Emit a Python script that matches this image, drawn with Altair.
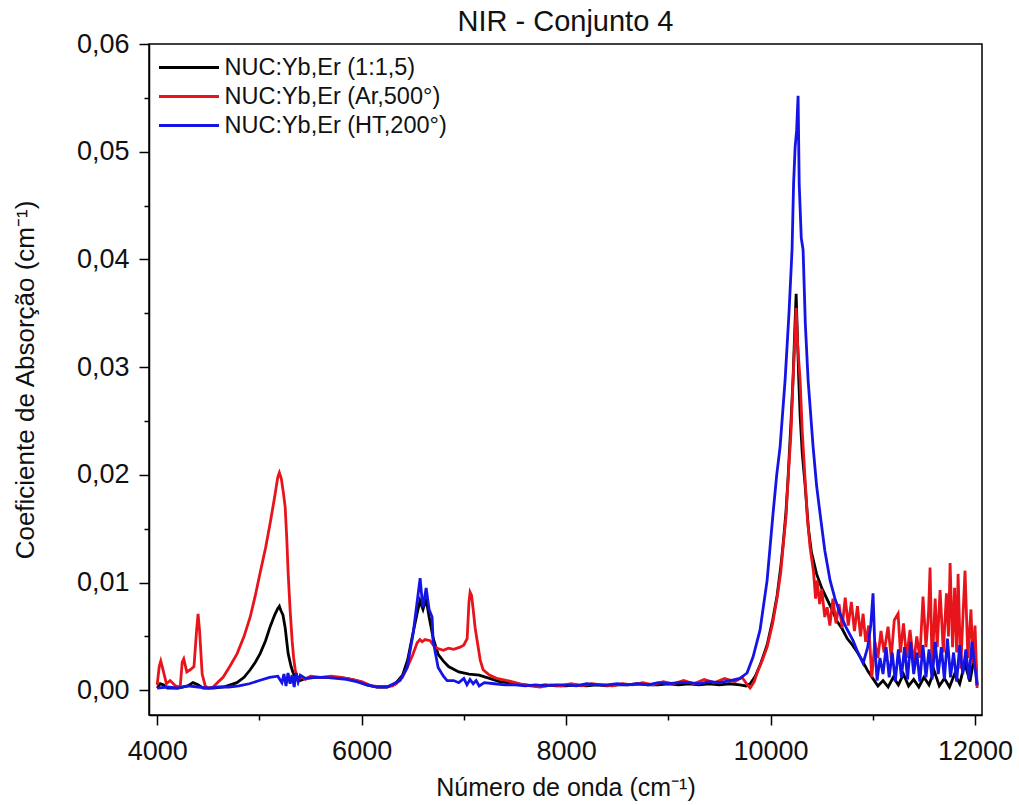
import altair as alt
import pandas as pd

SERIES = ["NUC:Yb,Er (1:1,5)", "NUC:Yb,Er (Ar,500°)", "NUC:Yb,Er (HT,200°)"]
COLORS = ["#000000", "#e8141c", "#1414e6"]

black_x = [4000, 4030, 4060, 4100, 4200, 4300, 4350, 4400, 4450, 4550, 4650, 4780, 4850, 4910, 4960,
           5007, 5060, 5105, 5150, 5180, 5195, 5210, 5230, 5252, 5281, 5310, 5330, 5360, 5400, 5450,
           5550, 5650, 5750, 5850, 5950, 6050, 6150, 6250, 6330, 6400, 6450, 6500, 6540, 6570, 6600,
           6630, 6660, 6700, 6750, 6800, 6850, 6950, 7050, 7150, 7250, 7350, 7500, 7600, 7700, 7800,
           7900, 8000, 8100, 8200, 8300, 8400, 8500, 8600, 8700, 8800, 8900, 9000, 9100, 9200, 9300,
           9400, 9500, 9600, 9700, 9760, 9800, 9850, 9900, 9966, 10020, 10064, 10100, 10122, 10150,
           10171, 10200, 10220, 10235, 10250, 10262, 10275, 10289, 10310, 10338, 10370, 10400, 10450,
           10500, 10550, 10600, 10650, 10700, 10750, 10800, 10850, 10900, 10950, 11000, 11050, 11100,
           11150, 11200, 11250, 11300, 11350, 11400, 11450, 11500, 11550, 11600, 11650, 11700, 11750,
           11800, 11850, 11900, 11950, 12000, 12020]
black_y = [0.0002, 0.0006, 0.0005, 0.0002, 0.0002, 0.0004, 0.0007, 0.0005, 0.0002, 0.0002, 0.0003,
           0.0007, 0.0012, 0.0019, 0.0026, 0.0034, 0.0046, 0.0059, 0.0070, 0.0076, 0.0078, 0.0074,
           0.0070, 0.0058, 0.0034, 0.0022, 0.0016, 0.0011, 0.0009, 0.0011, 0.0012, 0.0012, 0.0012,
           0.0011, 0.0009, 0.0005, 0.0003, 0.0003, 0.0006, 0.0014, 0.0028, 0.0052, 0.0070, 0.0083,
           0.0075, 0.0085, 0.0068, 0.0048, 0.0033, 0.0027, 0.0022, 0.0017, 0.0015, 0.0014, 0.0011,
           0.0008, 0.0006, 0.0005, 0.0004, 0.0005, 0.0004, 0.0004, 0.0005, 0.0004, 0.0005, 0.0004,
           0.0005, 0.0005, 0.0006, 0.0005, 0.0005, 0.0006, 0.0005, 0.0006, 0.0005, 0.0006, 0.0005,
           0.0006, 0.0005, 0.0004, 0.0006, 0.0013, 0.0024, 0.0042, 0.0065, 0.0088, 0.0115, 0.0135,
           0.0165, 0.0197, 0.0250, 0.0290, 0.0330, 0.0368, 0.0330, 0.0290, 0.0255, 0.0220, 0.0190,
           0.0150, 0.0128, 0.0108, 0.0095, 0.0085, 0.0075, 0.0064, 0.0057, 0.0048, 0.0042, 0.0035,
           0.0027, 0.0018, 0.0011, 0.0004, 0.0009, 0.0003, 0.0012, 0.0005, 0.0015, 0.0004, 0.0010,
           0.0003, 0.0012, 0.0005, 0.0018, 0.0004, 0.0011, 0.0003, 0.0015, 0.0006, 0.0025, 0.0008,
           0.0035, 0.0004]

red_x = [4000, 4020, 4035, 4060, 4090, 4127, 4180, 4225, 4245, 4260, 4290, 4323, 4360, 4385, 4400,
         4415, 4440, 4470, 4500, 4548, 4600, 4645, 4710, 4782, 4850, 4910, 4960, 5007, 5060, 5105,
         5150, 5180, 5195, 5215, 5235, 5252, 5268, 5281, 5300, 5320, 5335, 5350, 5379, 5400, 5450,
         5500, 5600, 5700, 5800, 5900, 6000, 6100, 6200, 6300, 6337, 6400, 6445, 6500, 6543, 6570,
         6592, 6620, 6670, 6700, 6738, 6800, 6850, 6900, 6963, 7000, 7032, 7050, 7061, 7075, 7091,
         7110, 7130, 7160, 7188, 7250, 7320, 7423, 7550, 7650, 7746, 7850, 7950, 8050, 8150, 8250,
         8350, 8450, 8550, 8650, 8750, 8850, 8950, 9050, 9150, 9250, 9350, 9450, 9550, 9650, 9720,
         9780, 9800, 9840, 9868, 9920, 9966, 10020, 10064, 10100, 10122, 10150, 10171, 10200, 10220,
         10235, 10250, 10265, 10289, 10310, 10338, 10360, 10386, 10420, 10440, 10455, 10480, 10500,
         10530, 10553, 10580, 10610, 10640, 10670, 10700, 10730, 10760, 10790, 10820, 10850, 10880,
         10905, 10930, 10960, 10990, 11020, 11050, 11080, 11110, 11149, 11180, 11210, 11247, 11270,
         11300, 11330, 11364, 11400, 11430, 11460, 11491, 11520, 11545, 11560, 11580, 11610, 11630,
         11658, 11690, 11720, 11740, 11756, 11780, 11800, 11820, 11834, 11860, 11880, 11902, 11930,
         11960, 11980, 12000, 12020]
red_y = [0.0005, 0.0022, 0.0027, 0.0018, 0.0006, 0.0009, 0.0004, 0.0003, 0.0026, 0.0029, 0.0017,
         0.0019, 0.0022, 0.0055, 0.0071, 0.0055, 0.0015, 0.0004, 0.0002, 0.0003, 0.0008, 0.0012,
         0.0022, 0.0034, 0.0050, 0.0068, 0.0088, 0.0109, 0.0132, 0.0155, 0.0180, 0.0198, 0.0202,
         0.0196, 0.0183, 0.0170, 0.0140, 0.0109, 0.0075, 0.0046, 0.0030, 0.0019, 0.0008, 0.0013,
         0.0010, 0.0013, 0.0012, 0.0013, 0.0012, 0.0010, 0.0008, 0.0004, 0.0003, 0.0004, 0.0006,
         0.0012, 0.0021, 0.0033, 0.0044, 0.0047, 0.0045, 0.0047, 0.0046, 0.0042, 0.0039, 0.0037,
         0.0039, 0.0038, 0.0040, 0.0042, 0.0048, 0.0082, 0.0091, 0.0088, 0.0075, 0.0058, 0.0046,
         0.0028, 0.0019, 0.0014, 0.0011, 0.0009, 0.0006, 0.0004, 0.0003, 0.0005, 0.0004, 0.0006,
         0.0004, 0.0006, 0.0005, 0.0004, 0.0006, 0.0005, 0.0007, 0.0005, 0.0008, 0.0006, 0.0009,
         0.0006, 0.0010, 0.0007, 0.0011, 0.0008, 0.0012, 0.0004, 0.0002, 0.0008, 0.0016, 0.0028,
         0.0040, 0.0062, 0.0086, 0.0110, 0.0133, 0.0160, 0.0195, 0.0240, 0.0288, 0.0320, 0.0355,
         0.0320, 0.0288, 0.0240, 0.0195, 0.0160, 0.0133, 0.0110, 0.0085, 0.0102, 0.0080, 0.0094,
         0.0068, 0.0077, 0.0060, 0.0085, 0.0062, 0.0080, 0.0058, 0.0086, 0.0060, 0.0082, 0.0055,
         0.0078, 0.0050, 0.0071, 0.0045, 0.0060, 0.0012, 0.0045, 0.0030, 0.0055, 0.0035, 0.0059,
         0.0030, 0.0065, 0.0071, 0.0035, 0.0062, 0.0030, 0.0056, 0.0025, 0.0050, 0.0030, 0.0087,
         0.0040, 0.0072, 0.0114, 0.0020, 0.0085, 0.0040, 0.0093, 0.0035, 0.0090, 0.0050, 0.0118,
         0.0040, 0.0095, 0.0035, 0.0108, 0.0020, 0.0065, 0.0111, 0.0030, 0.0075, 0.0025, 0.0060,
         0.0002]

blue_x = [4000, 4100, 4200, 4300, 4400, 4500, 4600, 4700, 4800, 4900, 5000, 5100, 5180, 5220, 5240,
          5260, 5280, 5300, 5320, 5340, 5360, 5380, 5400, 5450, 5550, 5650, 5750, 5850, 5950, 6050,
          6150, 6250, 6376, 6445, 6504, 6540, 6572, 6590, 6600, 6631, 6660, 6689, 6699, 6748, 6800,
          6836, 6900, 6950, 7000, 7030, 7060, 7091, 7120, 7150, 7200, 7300, 7400, 7500, 7600, 7700,
          7800, 7900, 8000, 8100, 8200, 8300, 8400, 8500, 8600, 8700, 8800, 8900, 9000, 9100, 9200,
          9300, 9400, 9500, 9604, 9700, 9770, 9829, 9897, 9966, 10024, 10060, 10093, 10142, 10180,
          10210, 10225, 10240, 10255, 10269, 10280, 10300, 10318, 10340, 10367, 10416, 10450, 10484,
          10530, 10582, 10630, 10680, 10740, 10807, 10850, 10905, 10950, 10980, 11002, 11020, 11042,
          11070, 11100, 11130, 11160, 11190, 11220, 11250, 11280, 11310, 11340, 11370, 11400, 11430,
          11460, 11490, 11520, 11550, 11580, 11610, 11640, 11670, 11700, 11730, 11760, 11790, 11820,
          11850, 11880, 11910, 11940, 11970, 12000, 12020]
blue_y = [0.0002, 0.0003, 0.0002, 0.0004, 0.0003, 0.0002, 0.0003, 0.0003, 0.0004, 0.0006, 0.0009,
          0.0012, 0.0013, 0.0007, 0.0015, 0.0004, 0.0016, 0.0006, 0.0014, 0.0003, 0.0016, 0.0008,
          0.0014, 0.0011, 0.0012, 0.0012, 0.0011, 0.0010, 0.0008, 0.0005, 0.0003, 0.0003, 0.0009,
          0.0021, 0.0053, 0.0080, 0.0104, 0.0085, 0.0077, 0.0095, 0.0075, 0.0068, 0.0046, 0.0021,
          0.0013, 0.0009, 0.0009, 0.0007, 0.0011, 0.0005, 0.0010, 0.0006, 0.0009, 0.0004, 0.0007,
          0.0006, 0.0005, 0.0005, 0.0004, 0.0005, 0.0004, 0.0005, 0.0005, 0.0004, 0.0006, 0.0005,
          0.0005, 0.0006, 0.0005, 0.0006, 0.0005, 0.0007, 0.0006, 0.0007, 0.0007, 0.0006, 0.0008,
          0.0007, 0.0009, 0.0011, 0.0016, 0.0031, 0.0056, 0.0102, 0.0164, 0.0200, 0.0226, 0.0288,
          0.0350, 0.0409, 0.0470, 0.0504, 0.0520, 0.0552, 0.0470, 0.0420, 0.0409, 0.0340, 0.0288,
          0.0226, 0.0190, 0.0164, 0.0130, 0.0102, 0.0085, 0.0071, 0.0058, 0.0046, 0.0036, 0.0025,
          0.0040, 0.0060, 0.0090, 0.0040, 0.0009, 0.0030, 0.0015, 0.0040, 0.0012, 0.0035, 0.0008,
          0.0038, 0.0012, 0.0040, 0.0010, 0.0045, 0.0015, 0.0035, 0.0008, 0.0042, 0.0012, 0.0038,
          0.0010, 0.0045, 0.0015, 0.0040, 0.0010, 0.0048, 0.0012, 0.0035, 0.0008, 0.0042, 0.0015,
          0.0038, 0.0010, 0.0045, 0.0020, 0.0005]

X_TICKS = [4000, 5000, 6000, 7000, 8000, 9000, 10000, 11000, 12000]
Y_TICKS = [0.0, 0.005, 0.01, 0.015, 0.02, 0.025, 0.03, 0.035, 0.04, 0.045, 0.05, 0.055, 0.06]

frames = []
for name, xs, ys in zip(SERIES, [black_x, red_x, blue_x], [black_y, red_y, blue_y]):
    frames.append(pd.DataFrame({"x": xs, "y": ys, "series": name}))

FONT = "Liberation Sans"

x_enc = alt.X("x:Q", scale=alt.Scale(domain=[3920, 12068], nice=False, zero=False),
              axis=alt.Axis(values=X_TICKS, format="d", title="Número de onda (cm⁻¹)",
                            labelExpr="datum.value % 2000 === 0 ? datum.label : ''",
                            tickSize={"condition": {"test": "datum.value % 2000 === 0", "value": 10}, "value": 5},
                            labelPadding=13, titlePadding=11, titleFontSize=25, grid=False))
y_enc = alt.Y("y:Q", scale=alt.Scale(domain=[-0.0023, 0.06], nice=False, zero=False),
              axis=alt.Axis(values=Y_TICKS, title="Coeficiente de Absorção (cm⁻¹)",
                            labelExpr="abs(round(datum.value*1000)) % 10 === 0 ? replace(format(datum.value, '.2f'), '.', ',') : ''",
                            tickSize={"condition": {"test": "abs(round(datum.value*1000)) % 10 === 0", "value": 10}, "value": 5},
                            labelPadding=10, titlePadding=38, grid=False))
color_enc = alt.Color("series:N", scale=alt.Scale(domain=SERIES, range=COLORS),
                      legend=alt.Legend(title=None, orient="none", legendX=23.5, legendY=7,
                                        symbolType="M-2,0L2,0", symbolSize=900, symbolStrokeWidth=2.8,
                                        labelFontSize=23.5, labelFont=FONT, labelColor="#111",
                                        labelLimit=600, labelOffset=19, rowPadding=1, padding=0))

layers = []
for df in frames:
    layers.append(alt.Chart(df).mark_line(strokeWidth=2.8, clip=True).encode(
        x=x_enc, y=y_enc, color=color_enc, order=alt.Order("x:Q")))

chart = alt.layer(*layers).properties(
    width=833, height=671,
    background="white",
    title=alt.TitleParams("NIR - Conjunto 4", fontSize=29, font=FONT, fontWeight="normal",
                          color="#111", offset=3, dy=10, anchor="middle"),
    autosize=alt.AutoSizeParams(type="none"),
    padding={"left": 149, "top": 44, "right": 37, "bottom": 90},
).configure_view(stroke="black", strokeWidth=1.5).configure_axis(
    domainColor="black", domainWidth=1.5, tickColor="black", tickWidth=1.5,
    labelFont=FONT, labelFontSize=27, labelColor="#111",
    titleFont=FONT, titleFontSize=26, titleFontWeight="normal", titleColor="#111",
)

chart.save("out.html", embed_options={"renderer": "svg", "actions": False})
